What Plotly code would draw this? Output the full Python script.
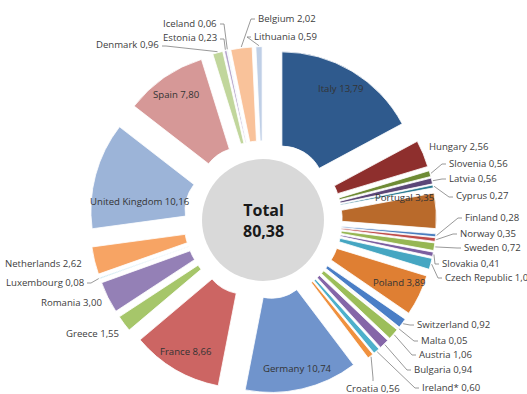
import math
import plotly.graph_objects as go

# ---------------- data ----------------
countries = ["Italy", "Hungary", "Slovenia", "Latvia", "Cyprus", "Portugal", "Finland", "Norway",
             "Sweden", "Slovakia", "Czech Republic", "Poland", "Switzerland", "Malta", "Austria",
             "Bulgaria", "Ireland*", "Croatia", "Germany", "France", "Greece", "Romania",
             "Luxembourg", "Netherlands", "United Kingdom", "Spain", "Denmark", "Estonia",
             "Iceland", "Belgium", "Lithuania"]
values = [13.79, 2.56, 0.56, 0.56, 0.27, 3.35, 0.28, 0.35,
          0.72, 0.41, 1.05, 3.89, 0.92, 0.05, 1.06,
          0.94, 0.60, 0.56, 10.74, 8.66, 1.55, 3.00,
          0.08, 2.62, 10.16, 7.80, 0.96, 0.23,
          0.06, 2.02, 0.59]
total_label = "80,38"

# ---------------- styles ----------------
colors = ["#2F5A8D", "#8E2F2D", "#6E8B35", "#5B4677", "#2C7C92", "#B96A2B", "#4A7DBE", "#BE4B48",
          "#96B653", "#7B5EA0", "#45A6C2", "#DF7F33", "#4A7EC6", "#C95654", "#9CBE5A",
          "#8566A8", "#4DB0CB", "#F0913E", "#7094CC", "#CC6563", "#A6C66A", "#9480B6",
          "#6FBFD6", "#F7A464", "#9CB4D8", "#D69897", "#C1D69C", "#B4A5CB",
          "#A0D2E0", "#F9C29A", "#BFCFE6"]

W, H = 527, 394
CX, CY = 263, 220          # pie centre (px)
R = 136.5                  # outer radius (px)
PULL = 0.27                # explosion, fraction of R
HOLE = 0.31
GREY_R = 61
FONT = "Open Sans"
FS = 9.6
TXT = "#404040"

inside = {"Italy", "Germany", "France", "Spain", "United Kingdom", "Portugal", "Poland"}
inside_nudge = {"United Kingdom": (25, 21), "Portugal": (-11, -14), "Poland": (-2, -4)}

# outside label placement: x, y (px), anchor, leader?
outside = {
    "Hungary": (427, 146, "left", False),
    "Slovenia": (447, 163, "left", True),
    "Latvia": (447, 178, "left", True),
    "Cyprus": (454, 196, "left", True),
    "Finland": (463, 217, "left", True),
    "Norway": (458, 233, "left", True),
    "Sweden": (462, 247, "left", True),
    "Slovakia": (440, 263, "left", True),
    "Czech Republic": (443, 277, "left", True),
    "Switzerland": (415, 324, "left", True),
    "Malta": (419, 340, "left", True),
    "Austria": (417, 354, "left", True),
    "Bulgaria": (412, 369, "left", True),
    "Ireland*": (420, 387, "left", True),
    "Croatia": (373, 388, "center", True),
    "Greece": (121, 333, "right", False),
    "Romania": (104, 302, "right", False),
    "Luxembourg": (86, 282, "right", True),
    "Netherlands": (84, 263, "right", False),
    "Denmark": (161, 45, "right", True),
    "Estonia": (219, 38, "right", True),
    "Iceland": (219, 23, "right", True),
    "Belgium": (256, 18, "left", True),
    "Lithuania": (252, 36, "left", True),
}


def px(x):
    return x / W


def py(y):
    return 1 - y / H


def fmt(v):
    return f"{v:.2f}".replace(".", ",")


half = R * (1 + PULL)
dom_x = [px(CX - half), px(CX + half)]
dom_y = [max(0.0, py(CY + half)), py(CY - half)]

fig = go.Figure(go.Pie(
    labels=countries, values=values, sort=False, direction="clockwise", rotation=0,
    hole=HOLE, pull=PULL, textinfo="none", showlegend=False,
    marker=dict(colors=colors, line=dict(color="white", width=0.8)),
    domain=dict(x=dom_x, y=dom_y),
))

tot = sum(values)
annotations = []
shapes = []
cum = 0.0
p = PULL * R
for name, v in zip(countries, values):
    a0 = cum / tot * 360
    cum += v
    a1 = cum / tot * 360
    bis = math.radians((a0 + a1) / 2)
    dx, dy = math.sin(bis), -math.cos(bis)
    ox, oy = CX + p * dx, CY + p * dy
    text = f"{name} {fmt(v)}"
    if name in inside:
        lx, ly = ox + 0.85 * R * dx, oy + 0.85 * R * dy
        nx, ny = inside_nudge.get(name, (0, 0))
        annotations.append(dict(x=px(lx + nx), y=py(ly + ny), xref="paper", yref="paper",
                                text=text, showarrow=False, xanchor="center", yanchor="middle",
                                font=dict(family=FONT, size=FS, color="#333333")))
    else:
        x, y, anc, lead = outside[name]
        annotations.append(dict(x=px(x), y=py(y), xref="paper", yref="paper",
                                text=text, showarrow=False, xanchor=anc, yanchor="middle",
                                font=dict(family=FONT, size=FS, color=TXT)))
        if lead:
            wx, wy = ox + (R + 1) * dx, oy + (R + 1) * dy
            if anc == "left":
                ex, ey, sx, sy = x - 1, y + 1, x - 5, y + 1
            elif anc == "right":
                ex, ey, sx, sy = x + 1, y + 1, x + 5, y + 1
            else:
                ex, ey, sx, sy = x, y - 7, x, y - 10
            path = f"M {px(wx)} {py(wy)} L {px(sx)} {py(sy)} L {px(ex)} {py(ey)}"
            shapes.append(dict(type="path", path=path, xref="paper", yref="paper",
                               line=dict(color="#7F7F7F", width=0.8)))

shapes.append(dict(type="circle", xref="paper", yref="paper",
                   x0=px(CX - GREY_R), x1=px(CX + GREY_R), y0=py(CY + GREY_R), y1=py(CY - GREY_R),
                   fillcolor="#D9D9D9", line=dict(width=0), layer="above"))
annotations.append(dict(x=px(CX), y=py(CY), xref="paper", yref="paper",
                        text=f"<b>Total<br>{total_label}</b>", showarrow=False,
                        xanchor="center", yanchor="middle",
                        font=dict(family=FONT, size=16, color="#1A1A1A")))

fig.update_layout(width=W, height=H, margin=dict(l=0, r=0, t=0, b=0, pad=0),
                  paper_bgcolor="white", plot_bgcolor="white",
                  annotations=annotations, shapes=shapes)
fig.write_html("out.html")
